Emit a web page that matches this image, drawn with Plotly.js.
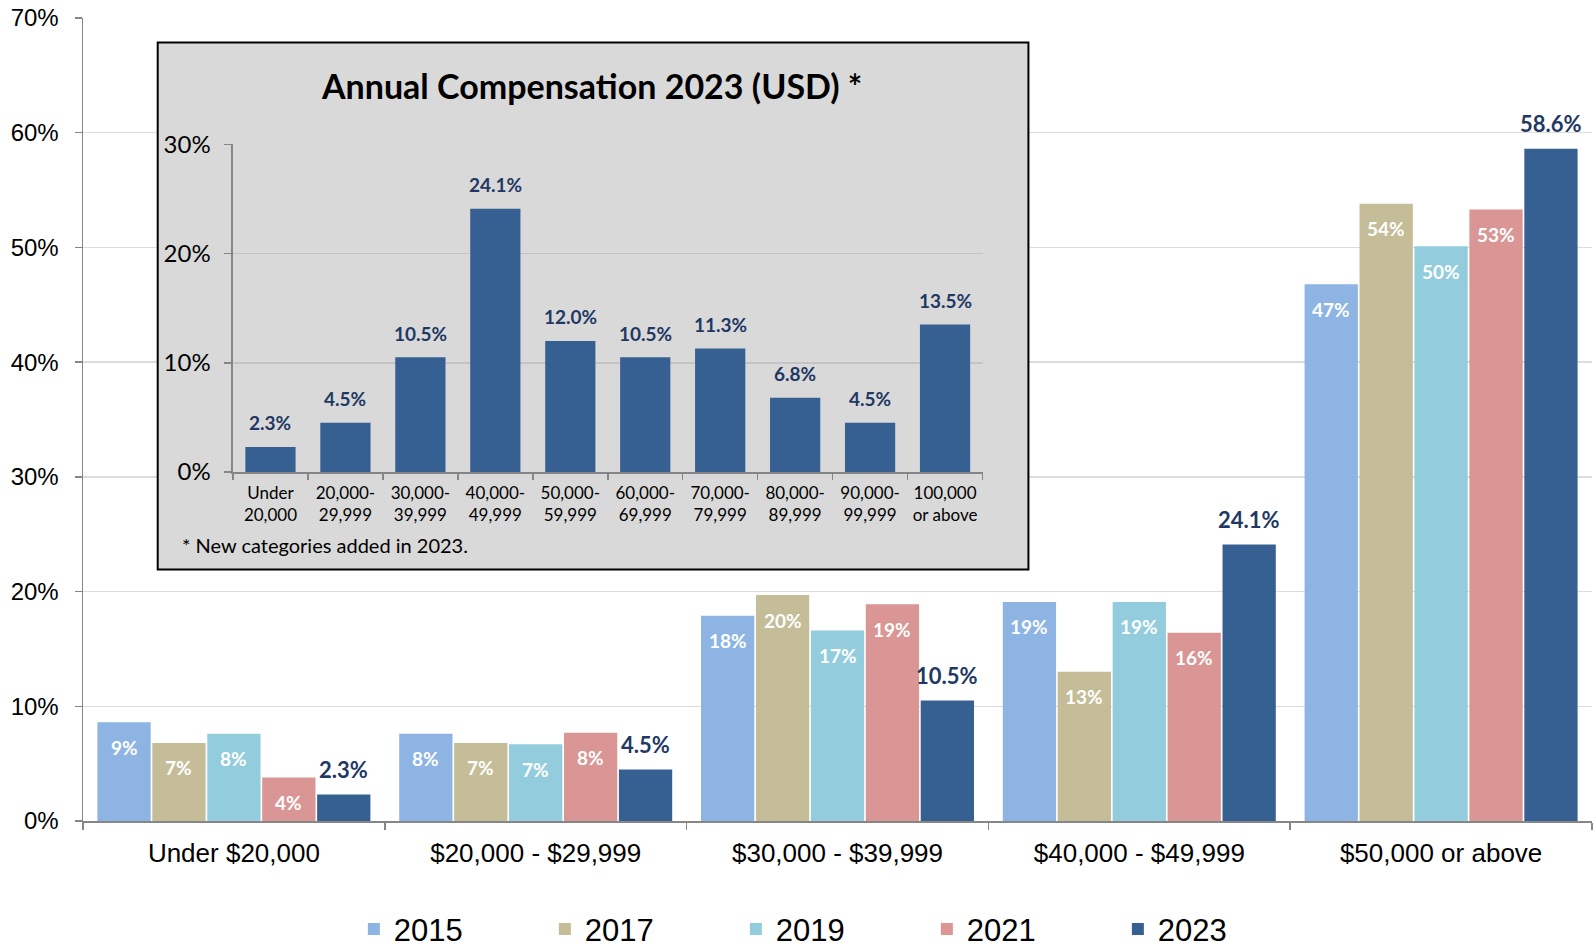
<!DOCTYPE html>
<html><head><meta charset="utf-8">
<script src="https://cdn.plot.ly/plotly-3.0.1.min.js"></script>
<style>html,body{margin:0;padding:0;background:#fff}#chart{width:1595px;height:948px}</style>
</head><body><div id="chart"></div>
<script>
const categories = ['Under $20,000', '$20,000 - $29,999', '$30,000 - $39,999', '$40,000 - $49,999', '$50,000 or above'];
const years = ['2015', '2017', '2019', '2021', '2023'];
const v2015 = [8.6, 7.6, 17.9, 19.1, 46.8];
const v2017 = [6.8, 6.8, 19.7, 13.0, 53.8];
const v2019 = [7.6, 6.7, 16.6, 19.1, 50.1];
const v2021 = [3.8, 7.7, 18.9, 16.4, 53.3];
const v2023 = [2.3, 4.5, 10.5, 24.1, 58.6];
const insetCategories = ['Under<br>20,000', '20,000-<br>29,999', '30,000-<br>39,999', '40,000-<br>49,999', '50,000-<br>59,999', '60,000-<br>69,999', '70,000-<br>79,999', '80,000-<br>89,999', '90,000-<br>99,999', '100,000<br>or above'];
const insetValues = [2.3, 4.5, 10.5, 24.1, 12.0, 10.5, 11.3, 6.8, 4.5, 13.5];
const insetTitle = 'Annual Compensation 2023 (USD) *';
const insetNote = '* New categories added in 2023.';

const colors = ['#8EB4E3', '#C4BD97', '#93CDDD', '#D99694', '#376092'];
const series = [v2015, v2017, v2019, v2021, v2023];
const navy = '#1F3864';
const cal = 'Lato, "Noto Sans", sans-serif';
const ari = '"Liberation Sans", Arial, sans-serif';
const axisGray = '#868686';
const BARGAP = 0.09;

const traces = series.map((vals, i) => ({
  type: 'bar', x: categories, y: vals, name: years[i],
  marker: {color: colors[i], line: {width: 0}},
  hoverinfo: 'skip'
}));

traces.push({
  type: 'bar', x: insetCategories, y: insetValues, xaxis: 'x2', yaxis: 'y2',
  width: 0.67, showlegend: false,
  marker: {color: '#376092', line: {width: 0}},
  hoverinfo: 'skip'
});

// data labels, placed through the axes at each bar's value
const annotations = [];
const slot = (1 - BARGAP) / series.length;
series.forEach((vals, i) => {
  const last = i === series.length - 1;
  vals.forEach((v, j) => {
    annotations.push({
      xref: 'x', yref: 'y', x: j + (i - (series.length - 1) / 2) * slot, y: v,
      text: last ? v.toFixed(1) + '%' : Math.round(v) + '%',
      showarrow: false, xanchor: 'center', yanchor: 'middle',
      yshift: last ? 25 : -25,
      font: last ? {family: cal, size: 22, color: navy, weight: 700}
                 : {family: cal, size: 19, color: '#ffffff', weight: 700}
    });
  });
});
insetValues.forEach((v, j) => {
  annotations.push({
    xref: 'x2', yref: 'y2', x: j, y: v, text: v.toFixed(1) + '%',
    showarrow: false, xanchor: 'center', yanchor: 'middle', yshift: 24,
    font: {family: cal, size: 19, color: navy, weight: 700}
  });
});
annotations.push(
  {xref: 'paper', yref: 'paper', x: 0.3373, y: 0.916, xanchor: 'center', yanchor: 'middle',
   text: insetTitle, showarrow: false, font: {family: cal, size: 34, color: '#000', weight: 700}},
  {xref: 'paper', yref: 'paper', x: 0.0643, y: 0.3437, xanchor: 'left', yanchor: 'middle',
   text: insetNote, showarrow: false, font: {family: cal, size: 20, color: '#000'}}
);

const layout = {
  width: 1595, height: 948,
  margin: {l: 83, r: 3, t: 18, b: 127, autoexpand: false},
  paper_bgcolor: '#ffffff', plot_bgcolor: 'rgba(0,0,0,0)',
  barmode: 'group', bargap: BARGAP, bargroupgap: 0.03,
  hovermode: false,
  font: {family: ari, color: '#000'},
  xaxis: {
    domain: [0, 1], type: 'category', range: [-0.5, 4.5], automargin: false,
    showline: true, linecolor: axisGray, linewidth: 1.5,
    ticks: 'outside', tickson: 'boundaries', ticklen: 7, tickcolor: axisGray, tickwidth: 1.5,
    ticklabelstandoff: 8,
    tickfont: {family: ari, size: 26, color: '#000'}, showgrid: false, fixedrange: true
  },
  yaxis: {
    range: [0, 70], dtick: 10, ticksuffix: '%', automargin: false,
    showline: true, linecolor: axisGray, linewidth: 1.5,
    ticks: 'outside', ticklen: 7, tickcolor: axisGray, tickwidth: 1.5,
    ticklabelstandoff: 11,
    gridcolor: '#dcdcdc', gridwidth: 1.5, zeroline: false,
    tickfont: {family: ari, size: 24, color: '#000'}, fixedrange: true
  },
  xaxis2: {
    domain: [0.0994, 0.5961], anchor: 'y2', type: 'category', range: [-0.5, 9.5], automargin: false,
    showline: true, linecolor: axisGray, linewidth: 1.5,
    ticks: 'outside', tickson: 'boundaries', ticklen: 6, tickcolor: axisGray, tickwidth: 1.5,
    ticklabelstandoff: 5,
    tickfont: {family: cal, size: 17, color: '#000'}, showgrid: false, fixedrange: true
  },
  yaxis2: {
    domain: [0.4346, 0.8426], anchor: 'x2', range: [0, 30], dtick: 10, ticksuffix: '%', automargin: false,
    showline: true, linecolor: axisGray, linewidth: 1.5,
    ticks: 'outside', ticklen: 7, tickcolor: axisGray, tickwidth: 1.5,
    ticklabelstandoff: 9,
    gridcolor: '#c4c4c4', gridwidth: 1.5, zeroline: false,
    tickfont: {family: cal, size: 24, color: '#000'}, fixedrange: true
  },
  shapes: [{
    type: 'rect', xref: 'x', yref: 'y', x0: -0.2525, x1: 2.6326, y0: 21.92, y1: 67.86,
    fillcolor: '#D9D9D9', line: {color: '#000', width: 2}, layer: 'between'
  }],
  annotations: annotations,
  legend: {
    orientation: 'h', x: 0.1795, xanchor: 'left', y: -0.135, yanchor: 'middle',
    font: {family: ari, size: 31, color: '#000'}, entrywidth: 146, entrywidthmode: 'pixels',
    traceorder: 'normal', bgcolor: 'rgba(0,0,0,0)'
  }
};

Plotly.newPlot('chart', traces, layout, {staticPlot: true, displayModeBar: false});
</script></body></html>
